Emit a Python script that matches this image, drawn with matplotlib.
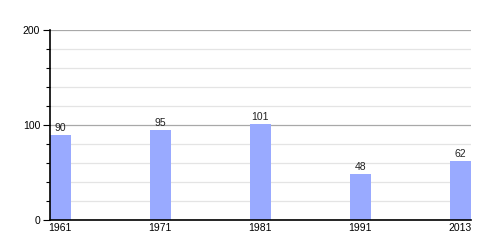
import matplotlib
matplotlib.use("Agg")
import matplotlib.pyplot as plt
from matplotlib.ticker import MultipleLocator

plt.rcParams["font.family"] = ["Liberation Sans", "DejaVu Sans"]

years = ["1961", "1971", "1981", "1991", "2013"]
population = [90, 95, 101, 48, 62]

BAR_COLOR = "#99aaff"
BAR_W = 0.207

fig = plt.figure(figsize=(5, 2.5), dpi=100)
ax = fig.add_axes([0.1, 0.12, 0.8414, 0.76])

pos = list(range(len(years)))
ax.bar(pos, population, width=BAR_W, align="edge", color=BAR_COLOR, zorder=3)
for p, v in zip(pos, population):
    ax.text(p + BAR_W / 2, v + 2, str(v), ha="center", va="bottom",
            fontsize=7.5, color="#222222", zorder=4)

ax.set_xlim(0, len(years) - 1 + BAR_W)
ax.set_ylim(0, 200)
ax.set_xticks([p + BAR_W / 2 for p in pos])
ax.set_xticklabels(years, fontsize=7.5)
ax.tick_params(axis="x", length=0, pad=2)

ax.yaxis.set_major_locator(MultipleLocator(100))
ax.yaxis.set_minor_locator(MultipleLocator(20))
ax.tick_params(axis="y", which="major", length=5, width=0.8, labelsize=7.5, pad=2)
ax.tick_params(axis="y", which="minor", length=3, width=0.8)
ax.grid(axis="y", which="major", color="#a8a8a8", linewidth=0.9, zorder=1)
ax.grid(axis="y", which="minor", color="#e4e4e4", linewidth=0.9, zorder=1)

for s in ("top", "right"):
    ax.spines[s].set_visible(False)
ax.spines["left"].set_linewidth(1.2)
ax.spines["bottom"].set_linewidth(1.2)
ax.spines["left"].set_zorder(5)
ax.spines["bottom"].set_zorder(5)

fig.savefig("out.png", dpi=100, facecolor="white")
